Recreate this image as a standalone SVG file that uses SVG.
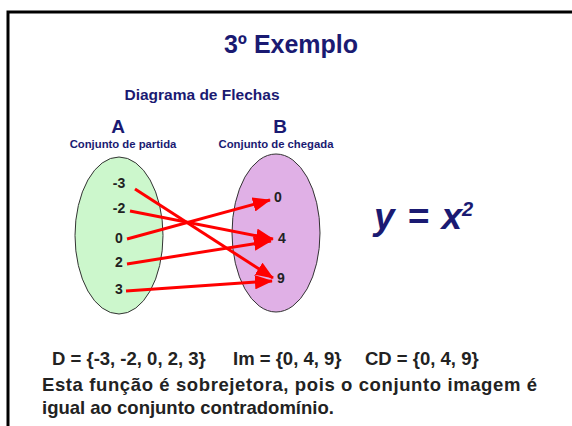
<svg xmlns="http://www.w3.org/2000/svg" width="572" height="426" viewBox="0 0 572 426">
<style>
.navy{fill:#1a1a72;font-family:"Liberation Sans",Arial,sans-serif;font-weight:bold}
.num{fill:#222;font-family:"Liberation Sans",Arial,sans-serif;font-weight:bold;font-size:14px;text-anchor:middle}
.body{fill:#222;font-family:"Liberation Sans",Arial,sans-serif;font-weight:bold;font-size:18.5px}
.arr{stroke:#ff0000;stroke-width:3;fill:none;marker-end:url(#ah)}
</style>
<defs>
<marker id="ah" viewBox="0 0 10 8" refX="9.5" refY="4" markerWidth="6" markerHeight="4.8" orient="auto" markerUnits="strokeWidth">
<path d="M0,0 L10,4 L0,8 z" fill="#ff0000"/>
</marker>
</defs>
<rect width="572" height="426" fill="#ffffff"/>
<path d="M8,426 V12 H572" fill="none" stroke="#000" stroke-width="3"/>
<text class="navy" x="291" y="53" font-size="25" text-anchor="middle">3º Exemplo</text>
<text class="navy" x="202" y="100" font-size="15.5" text-anchor="middle">Diagrama de Flechas</text>
<g id="setA">
<text class="navy" x="118" y="133" font-size="19" text-anchor="middle">A</text>
<text class="navy" x="123" y="148" font-size="11.3" text-anchor="middle">Conjunto de partida</text>
<ellipse cx="119" cy="235.5" rx="44" ry="78.5" fill="#ccf7cc" stroke="#333" stroke-width="1"/>
<text class="num" x="119" y="188">-3</text>
<text class="num" x="119" y="213">-2</text>
<text class="num" x="119" y="243">0</text>
<text class="num" x="119" y="267">2</text>
<text class="num" x="119" y="294">3</text>
</g>
<g id="setB">
<text class="navy" x="280" y="133" font-size="19" text-anchor="middle">B</text>
<text class="navy" x="276" y="148" font-size="11.3" text-anchor="middle">Conjunto de chegada</text>
<ellipse cx="276" cy="233" rx="44" ry="79" fill="#e0b0e6" stroke="#333" stroke-width="1"/>
<text class="num" x="278" y="202">0</text>
<text class="num" x="282" y="243">4</text>
<text class="num" x="281" y="283">9</text>
</g>
<g id="connectors">
<line class="arr" x1="135" y1="189" x2="273" y2="278"/>
<line class="arr" x1="130" y1="211" x2="273" y2="239"/>
<line class="arr" x1="127" y1="239" x2="270" y2="200"/>
<line class="arr" x1="127" y1="264" x2="271" y2="241"/>
<line class="arr" x1="126" y1="291" x2="272" y2="281"/>
</g>
<text class="navy" x="374" y="229" font-size="37" font-style="italic" textLength="88" lengthAdjust="spacing">y = x</text>
<text class="navy" x="462" y="216" font-size="20" font-style="italic">2</text>
<text class="body" x="52" y="365">D = {-3, -2, 0, 2, 3}</text>
<text class="body" x="233" y="365">Im = {0, 4, 9}</text>
<text class="body" x="365" y="365">CD = {0, 4, 9}</text>
<text class="body" x="42" y="391" textLength="495" lengthAdjust="spacing">Esta função é sobrejetora, pois o conjunto imagem é</text>
<text class="body" x="42" y="414">igual ao conjunto contradomínio.</text>
</svg>
